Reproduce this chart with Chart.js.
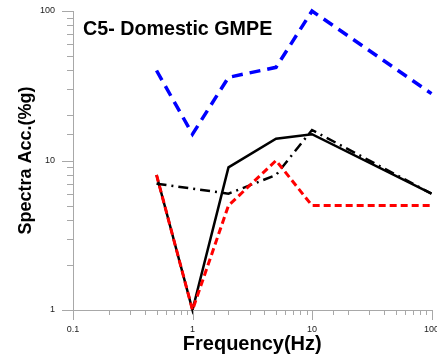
<!DOCTYPE html>
<html>
<head>
<meta charset="utf-8">
<script src="https://cdn.jsdelivr.net/npm/chart.js@4"></script>
<style>
  html, body { margin: 0; padding: 0; background: #fff; }
  #wrap { width: 437px; height: 356px; }
</style>
</head>
<body>
<div id="wrap"><canvas id="c" width="437" height="356"></canvas></div>
<script>
  // frequencies (Hz) and spectral acceleration (%g)
  var FREQS     = [0.5, 1, 2, 5, 10, 100];
  var BLUE      = [40, 15, 36, 42, 100, 28];
  var BLACK     = [8, 1, 9, 14, 15, 6];
  var RED       = [8, 1, 5, 10, 5, 5];
  var DD_FREQS  = [0.5, 2, 5, 10, 100];
  var DASH_DOT  = [7, 6, 8, 16, 6];

  var TITLE = 'C5- Domestic GMPE';
  var X_TITLE = 'Frequency(Hz)';
  var Y_TITLE = 'Spectra Acc.(%g)';

  var FONT = 'Arial, "Liberation Sans", sans-serif';
  var AXIS_GREY = '#a8a8a8';

  function pts(xs, ys) {
    return xs.map(function (x, i) { return { x: x, y: ys[i] }; });
  }

  function isDecade(v) {
    var l = Math.log10(v);
    return Math.abs(l - Math.round(l)) < 1e-6;
  }

  function decadeLabel(v) {
    if (!isDecade(v)) return '';
    var l = Math.round(Math.log10(v));
    return l < 0 ? '0.1' : String(Math.pow(10, l));
  }

  // draws major/minor tick marks of differing length from the scales' own ticks
  var tickMarks = {
    id: 'tickMarks',
    afterDraw: function (chart) {
      var ctx = chart.ctx;
      var xs = chart.scales.x, ys = chart.scales.y;
      ctx.save();
      ctx.strokeStyle = AXIS_GREY;
      ctx.lineWidth = 1;
      ctx.beginPath();
      xs.ticks.forEach(function (t) {
        var px = Math.round(xs.getPixelForValue(t.value)) + 0.5;
        var len = isDecade(t.value) ? 10 : 5;
        ctx.moveTo(px, xs.top);
        ctx.lineTo(px, xs.top + len);
      });
      ys.ticks.forEach(function (t) {
        var py = Math.round(ys.getPixelForValue(t.value)) + 0.5;
        var len = isDecade(t.value) ? 11 : 6;
        ctx.moveTo(ys.right, py);
        ctx.lineTo(ys.right - len, py);
      });
      ctx.stroke();

      ctx.fillStyle = '#000';
      ctx.font = 'bold 19.7px ' + FONT;
      ctx.textBaseline = 'alphabetic';
      ctx.fillText(TITLE, chart.chartArea.left + 10, 35);
      ctx.restore();
    }
  };

  new Chart(document.getElementById('c'), {
    type: 'line',
    data: {
      datasets: [
        {
          data: pts(FREQS, RED),
          borderColor: '#ff0000',
          borderWidth: 3,
          borderDash: [7, 4]
        },
        {
          data: pts(FREQS, BLACK),
          borderColor: '#000000',
          borderWidth: 2.5
        },
        {
          data: pts(DD_FREQS, DASH_DOT),
          borderColor: '#000000',
          borderWidth: 2.5,
          borderDash: [10, 5, 2, 5]
        },
        {
          data: pts(FREQS, BLUE),
          borderColor: '#0000ff',
          borderWidth: 3.5,
          borderDash: [11, 7]
        }
      ]
    },
    options: {
      responsive: false,
      animation: false,
      events: [],
      layout: { padding: { top: 11, right: 5.5, left: 0, bottom: 0 } },
      elements: {
        point: { radius: 0 },
        line: { tension: 0, fill: false }
      },
      datasets: { line: { clip: false } },
      plugins: {
        legend: { display: false },
        tooltip: { enabled: false }
      },
      scales: {
        x: {
          type: 'logarithmic',
          min: 0.1,
          max: 100,
          afterFit: function (s) { s.height = 46; s.paddingLeft = 0; s.paddingRight = 0; },
          border: { display: true, color: AXIS_GREY, width: 1 },
          grid: { drawOnChartArea: false, drawTicks: true, tickLength: 10, tickColor: 'rgba(0,0,0,0)' },
          ticks: {
            autoSkip: false,
            maxRotation: 0,
            padding: 4,
            color: '#222',
            font: { family: FONT, size: 9 },
            callback: function (v) { return decadeLabel(v); }
          },
          title: {
            display: true,
            text: X_TITLE,
            color: '#000',
            font: { family: FONT, size: 20, weight: 'bold' },
            padding: { top: 0, bottom: 0 }
          }
        },
        y: {
          type: 'logarithmic',
          min: 1,
          max: 100,
          afterFit: function (s) { s.width = 73; s.paddingTop = 0; s.paddingBottom = 0; },
          border: { display: true, color: AXIS_GREY, width: 1 },
          grid: { drawOnChartArea: false, drawTicks: true, tickLength: 11, tickColor: 'rgba(0,0,0,0)' },
          ticks: {
            autoSkip: false,
            padding: 7,
            color: '#222',
            font: { family: FONT, size: 9 },
            callback: function (v) { return decadeLabel(v); }
          },
          title: {
            display: true,
            text: Y_TITLE,
            color: '#000',
            font: { family: FONT, size: 18, weight: 'bold' },
            padding: { top: 15, bottom: 0 }
          }
        }
      }
    },
    plugins: [tickMarks]
  });
</script>
</body>
</html>
